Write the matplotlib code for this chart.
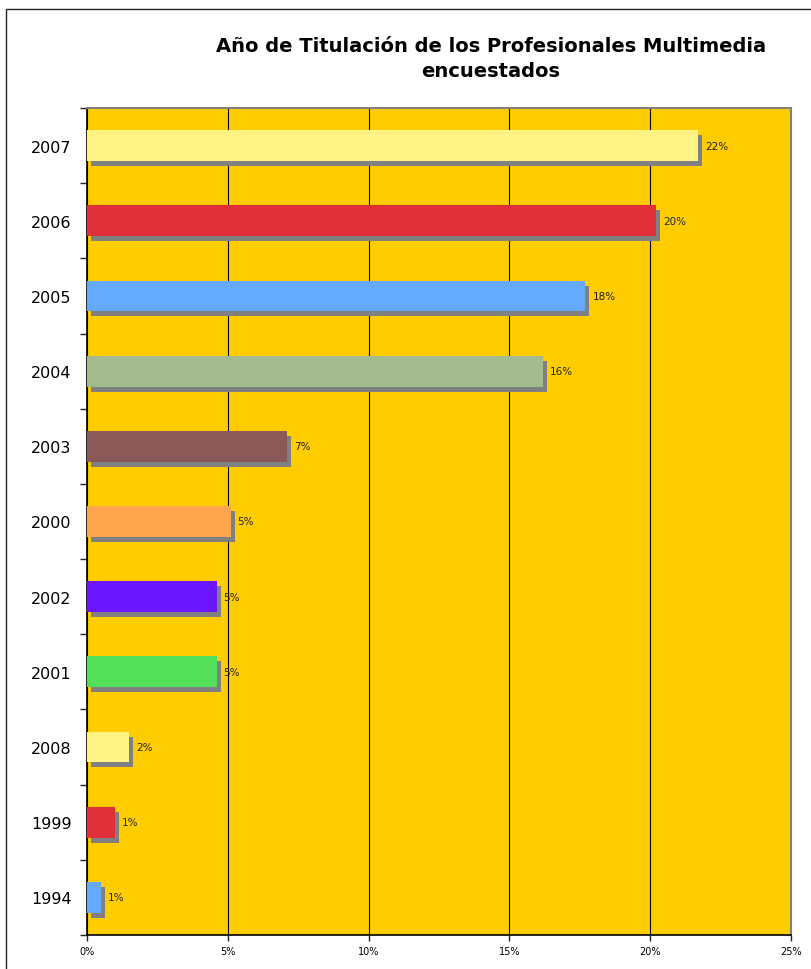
import matplotlib
matplotlib.use("Agg")
import matplotlib.pyplot as plt
import matplotlib.transforms as mtransforms
from matplotlib.patches import Rectangle
import math

# Graduation year shares (percent), listed top to bottom
years = ["2007", "2006", "2005", "2004", "2003", "2000", "2002", "2001", "2008", "1999", "1994"]
shares = [21.7, 20.2, 17.7, 16.2, 7.1, 5.1, 4.6, 4.6, 1.5, 1.0, 0.5]
bar_colors = ["#FFF384", "#E0303A", "#66AAFF", "#A3BB8E", "#8B5858", "#FFA64C",
              "#6B16FF", "#52E05A", "#FFF384", "#E0303A", "#66AAFF"]
x_ticks = [0, 5, 10, 15, 20, 25]
title = "Año de Titulación de los Profesionales Multimedia\nencuestados"

fig = plt.figure(figsize=(8.11, 9.70), dpi=100)
fig.patch.set_facecolor("white")

# outer chart frame
fig.patches.append(Rectangle((6 / 811, -0.05), 1.2, 1 - 10 / 970 + 0.05,
                             transform=fig.transFigure, fill=False,
                             edgecolor="#222222", linewidth=1.0))

ax = fig.add_axes([87 / 811, 1 - 936 / 970, (791 - 87) / 811, (936 - 109) / 970])
ax.set_facecolor("#FFCC00")

pos = list(range(len(years)))
h = 0.41

# drop shadows, shifted right and down in screen space
shadow = ax.transData + mtransforms.ScaledTranslation(4 / 100, -5 / 100, fig.dpi_scale_trans)
ax.barh(pos, shares, height=h, color="#808080", transform=shadow, zorder=2)
ax.barh(pos, shares, height=h, color=bar_colors, zorder=3)

for p, v in zip(pos, shares):
    ax.annotate(f"{int(math.floor(v + 0.5))}%", xy=(v, p), xytext=(7, 0),
                textcoords="offset pixels", va="center", ha="left",
                fontsize=7.5, color="#222222", zorder=4)

ax.set_xlim(0, 25)
ax.set_ylim(len(years) - 0.5, -0.5)
ax.set_xticks(x_ticks)
ax.set_xticklabels([f"{t}%" for t in x_ticks], fontsize=7)
ax.set_yticks(pos)
ax.set_yticklabels(years, fontsize=11.5)
ax.set_yticks([p + 0.5 for p in range(-1, len(years))], minor=True)
ax.tick_params(axis="y", which="major", length=0, pad=11)
ax.tick_params(axis="y", which="minor", length=5, width=1, color="#222222")
ax.tick_params(axis="x", which="major", length=4, width=1, pad=4, color="#222222")

ax.grid(axis="x", color="#000000", linewidth=0.8, zorder=1)
ax.set_axisbelow(True)

ax.spines["left"].set_color("#000000")
ax.spines["bottom"].set_color("#000000")
ax.spines["left"].set_linewidth(1.2)
ax.spines["bottom"].set_linewidth(1.2)
ax.spines["top"].set_color("#808080")
ax.spines["right"].set_color("#808080")
ax.spines["top"].set_linewidth(1.5)
ax.spines["right"].set_linewidth(1.5)

fig.text(491 / 811, 1 - 59 / 970, title, ha="center", va="center",
         fontsize=14, fontweight="bold", linespacing=1.45)

fig.savefig("out.png", dpi=100)
